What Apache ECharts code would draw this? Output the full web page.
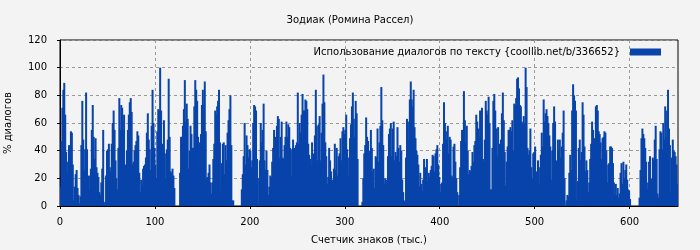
<!DOCTYPE html>
<html><head><meta charset="utf-8">
<script src="https://cdn.jsdelivr.net/npm/echarts@6/dist/echarts.min.js"></script>
<style>html,body{margin:0;padding:0;background:#f3f3f3}#c{width:700px;height:250px}</style>
</head><body><div id="c"></div>
<script>
const title = 'Зодиак (Ромина Рассел)';
const seriesName = 'Использование диалогов по тексту {coollib.net/b/336652}';
const xName = 'Счетчик знаков (тыс.)';
const yName = '% диалогов';
const xTicks = [0, 100, 200, 300, 400, 500, 600];
const xMax = 651;
const yMin = 0, yMax = 120, yStep = 20;

// % of dialogue per 1000 characters, segments in reading order
const usageA = [
  14,47,71,84,89,66,39,24,32,44,36,54,53,30,4,14,23,26,13,8,
  2,7,44,76,48,26,41,82,41,12,22,11,27,55,73,50,34,49,28,24,
  21,10,8,17,27,55,1,3,22,40,41,45,28,25,45,60,69,55,33,20,
  12,42,78,55,73,71,55,66,18,30,40,55,66,75,78,68,30,32,40,44,
  47,54,51,24,10,19,15,27,29,30,35,53,67,48,41,26,58,84,60,42,30,
  20,54,70,69,100,69,35,45,62,38,20,41,48,92,50,25,24,27,22,13,
  0,0,0,0,0,
  24,50,50,58,70,91,61,74,63,27,40,58,52,42,42,72,91,84,76,50,
  28,46,52,73,84,73,90,54,20,21,24,30,17,9,17,34,45,69,66,72,
  76,84,46,11,31,45,46,23,44,33,53,62,70,80,44,4,4,
  0,0,0,0,0,0,0,0
];
const usageB = [
  12,23,36,60,30,51,44,35,41,40,28,33,60,73,72,69,34,20,2,
  33,60,46,55,74,33,26,40,26,8,14,22,21,32,42,55,45,50,58,
  65,63,35,50,61,35,34,44,50,61,50,59,57,42,22,41,48,38,42,
  44,46,82,45,60,53,66,81,69,69,77,76,70,45,37,34,29,46,38,
  29,51,84,58,33,59,65,33,53,74,95,75,46,36,16,21,42,33,25,
  16,19,27,45,26,42,22,36,38,49,33,54,57,52,55,66,41,22,35,
  49,59,72,82,63,50,76,67,34,0,0,0,0,3,20,38,44,64,50,
  47,33,40,55,42,25,27,13,36,35,56,32,46,58,86,62,44,16,20,
  16,19,36,52,56,60,36,56,61,33,39,36,57,42,32,44,40,19,10,
  4,3,35,63,61,48,77,90,77,72,84,57,49,40,37,30,14
];
const usageC = [
  24,16,11,19,34,28,17,34,18,24,21,26,29,37,36,25,38,41,44,30,21,
  10,16,17,45,75,60,54,48,58,38,50,48,22,21,43,45,32,20,10,0,8,
  28,47,55,55,83,62,46,58,40,23,26,25,29,39,32,44,47,66,61,56,50,
  69,42,71,34,32,48,76,69,66,79,60,12,12,42,76,81,69,56,36,57,45,
  37,48,67,82,62,39,15,32,43,55,55,57,54,62,40,74,73,78,92,93,85,
  73,72,61,59,65,60,100,86,42,37,40,56,28,20,38,39,43,25,20,33,28,
  16,37,53,43,77,61,67,70,65,60,51,43,19,40,60,72,61,26,33,48,40
];
const usageD = [
  48,35,43,53,69,20,0,4,8,7,24,37,26,69,88,80,76,69,4,
  18,42,48,33,39,75,66,43,25,33,26,10,17,34,45,61,55,41,49,
  72,73,69,54,52,46,34,49,50,54,53,40,17,30,31,43,43,42,31,
  17,8,16,8,13,6,9,24,31,16,32,20,26,30,19,12,11,5,
  0,0,0,0,0,0,0,0,0,
  6,26,49,56,52,49,42,32,12,17,32,36,20,19,35,33,48,58,34,9,
  6,41,54,53,41,60,48,72,50,69,84,56,44,10,35,48,40,39,36,30,16
];
const usage = usageA.concat(usageB, usageC, usageD);
const categories = usage.map((_, i) => i);

const FONT = 'DejaVu Sans';
const chart = echarts.init(document.getElementById('c'), null, {renderer: 'canvas'});
chart.setOption({
  backgroundColor: '#f3f3f3',
  animation: false,
  textStyle: {fontFamily: FONT},
  title: {
    text: title, left: 'center', top: 10,
    textStyle: {fontFamily: FONT, fontSize: 10, fontWeight: 'normal', color: '#000'}
  },
  legend: {
    data: [seriesName], right: 34, top: 42, align: 'right',
    itemWidth: 31, itemHeight: 7, icon: 'rect',
    textStyle: {fontFamily: FONT, fontSize: 10, color: '#000', padding: [0, 5, 0, 0]}
  },
  grid: {left: 60, right: 22, top: 40, bottom: 44, show: true, borderColor: '#000', borderWidth: 1,
         backgroundColor: 'transparent', containLabel: false, outerBoundsMode: 'none'},
  xAxis: [
    {type: 'category', data: categories, show: false, boundaryGap: true},
    {type: 'value', min: 0, max: xMax, interval: 100, position: 'bottom',
     name: xName, nameLocation: 'middle', nameGap: 29,
     nameTextStyle: {fontFamily: FONT, fontSize: 10, color: '#000'},
     axisLine: {show: true, lineStyle: {color: '#000', width: 1}},
     axisTick: {show: true, length: 3, inside: false, customValues: xTicks, lineStyle: {color: '#000'}},
     axisLabel: {customValues: xTicks, margin: 11, fontFamily: FONT, fontSize: 10, color: '#000'},
     splitLine: {show: true, lineStyle: {color: '#999', type: [3, 3], width: 1}}
    }
  ],
  yAxis: {
    type: 'value', min: yMin, max: yMax, interval: yStep,
    name: yName, nameLocation: 'middle', nameGap: 47, nameRotate: 90,
    nameTextStyle: {fontFamily: FONT, fontSize: 10, color: '#000'},
    axisLine: {show: true, lineStyle: {color: '#000', width: 1}},
    axisTick: {show: true, length: 3, inside: false, lineStyle: {color: '#000'}},
    axisLabel: {margin: 13, fontFamily: FONT, fontSize: 10, color: '#000'},
    splitLine: {show: true, lineStyle: {color: '#999', type: [3, 3], width: 1}}
  },
  series: [{
    name: seriesName, type: 'bar', xAxisIndex: 0, yAxisIndex: 0,
    data: usage, barWidth: 2,
    itemStyle: {color: '#0844aa'}, z: 1
  }]
});
</script></body></html>
